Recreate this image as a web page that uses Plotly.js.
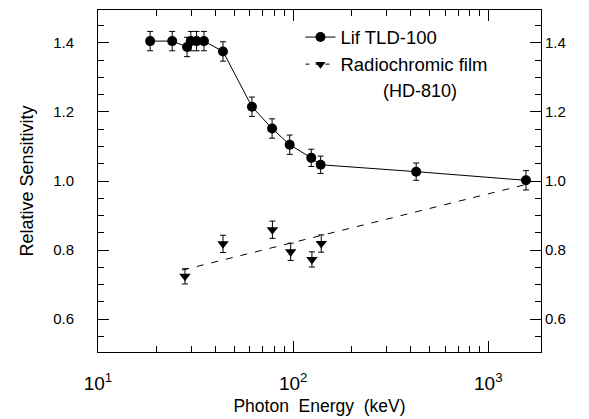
<!DOCTYPE html>
<html>
<head>
<meta charset="utf-8">
<script src="https://cdn.plot.ly/plotly-3.0.1.min.js"></script>
<style>html,body{margin:0;padding:0;background:#fff;}#chart{width:589px;height:419px;}</style>
</head>
<body>
<div id="chart"></div>
<script>
// LiF TLD-100 data
const lifX = [18.5, 24.0, 28.6, 29.9, 32.0, 34.9, 43.7, 61.5, 78.0, 96.0, 123.8, 138.3, 427, 1560];
const lifY = [1.405, 1.405, 1.388, 1.405, 1.405, 1.405, 1.375, 1.215, 1.152, 1.105, 1.067, 1.047, 1.027, 1.002];
const lifErr = [0.028, 0.028, 0.028, 0.028, 0.028, 0.028, 0.028, 0.028, 0.028, 0.028, 0.025, 0.025, 0.025, 0.028];
// Radiochromic film (HD-810) data
const filmX = [27.9, 43.7, 78.3, 97.1, 124.8, 139.3];
const filmY = [0.724, 0.818, 0.859, 0.795, 0.773, 0.819];
const filmErr = [0.022, 0.025, 0.025, 0.025, 0.022, 0.025];
// Fitted dashed line for film
const fitX = [27, 1560];
const fitY = [0.742, 0.99];
// Axis ticks
const xTickVals = [10, 100, 1000];
const xTickText = ['10<sup>1</sup>', '10<sup>2</sup>', '10<sup>3</sup>'];
const yTickVals = [0.6, 0.8, 1.0, 1.2, 1.4];
const yTickText = ['0.6', '0.8', '1.0', '1.2', '1.4'];

const xMinor = [];
[10, 100, 1000].forEach(d => { for (let k = 2; k <= 9; k++) xMinor.push(d * k); });

const FONT = 'Liberation Sans, Arial, Helvetica, sans-serif';
const traces = [
  {x: lifX, y: lifY, type: 'scatter', mode: 'lines+markers', name: 'Lif TLD-100',
   line: {color: '#000', width: 1}, marker: {symbol: 'circle', size: 10, color: '#000'},
   error_y: {type: 'data', array: lifErr, visible: true, color: '#000', thickness: 1, width: 3}},
  {x: fitX, y: fitY, type: 'scatter', mode: 'lines', showlegend: false,
   line: {color: '#000', width: 1, dash: '7px,8px'}},
  {x: filmX, y: filmY, type: 'scatter', mode: 'markers', showlegend: false,
   marker: {symbol: 'triangle-down', size: 10, color: '#000'},
   error_y: {type: 'data', array: filmErr, visible: true, color: '#000', thickness: 1, width: 3}},
  {x: [null], y: [null], type: 'scatter', mode: 'lines+markers', name: 'Radiochromic film',
   line: {color: '#000', width: 1, dash: '4px,6px'}, marker: {symbol: 'triangle-down', size: 9, color: '#000'}}
];

const layout = {
  width: 589, height: 419,
  margin: {l: 98, r: 48, t: 10, b: 67},
  paper_bgcolor: '#fff', plot_bgcolor: '#fff',
  font: {family: FONT, color: '#000', size: 15},
  showlegend: true,
  legend: {x: 0.457, y: 0.975, xanchor: 'left', yanchor: 'top', bgcolor: 'rgba(0,0,0,0)',
           font: {size: 18.5, family: FONT}, tracegroupgap: 0},
  xaxis: {type: 'log', range: [1, 3.27], tickmode: 'array', tickvals: xTickVals, ticktext: xTickText,
          ticks: 'inside', ticklen: 11, tickwidth: 1, tickcolor: '#000',
          showline: true, linecolor: '#000', linewidth: 1, mirror: 'ticks', showgrid: false, zeroline: false,
          tickfont: {size: 19}, ticklabelstandoff: 14,
          minor: {tickmode: 'array', tickvals: xMinor, ticks: 'inside', ticklen: 6, tickcolor: '#000', tickwidth: 1, showgrid: false},
          title: {text: 'Photon  Energy  (keV)', font: {size: 17.5}, standoff: 6}},
  yaxis: {range: [0.505, 1.495], tickmode: 'array', tickvals: yTickVals, ticktext: yTickText,
          ticks: 'inside', ticklen: 11, tickwidth: 1, tickcolor: '#000',
          showline: true, linecolor: '#000', linewidth: 1, showgrid: false, zeroline: false,
          tickfont: {size: 15}, ticklabelstandoff: 20,
          minor: {dtick: 0.05, ticks: 'inside', ticklen: 6, tickcolor: '#000', tickwidth: 1, showgrid: false},
          title: {text: 'Relative Sensitivity', font: {size: 18}, standoff: 14}},
  yaxis2: {overlaying: 'y', side: 'right', range: [0.505, 1.495], tickmode: 'array', tickvals: yTickVals, ticktext: yTickText,
           ticks: 'inside', ticklen: 11, tickwidth: 1, tickcolor: '#000',
           showline: true, linecolor: '#000', linewidth: 1, showgrid: false, zeroline: false,
           tickfont: {size: 15},
           minor: {dtick: 0.05, ticks: 'inside', ticklen: 6, tickcolor: '#000', tickwidth: 1, showgrid: false}},
  annotations: [{xref: 'paper', yref: 'paper', x: 0.727, y: 0.763, xanchor: 'center', yanchor: 'middle',
                 text: '(HD-810)', showarrow: false, font: {size: 18, family: FONT}}]
};
// dummy trace on yaxis2 to make it render
traces.push({x: [null], y: [null], yaxis: 'y2', type: 'scatter', mode: 'markers', showlegend: false, hoverinfo: 'skip'});
Plotly.newPlot('chart', traces, layout, {displayModeBar: false, staticPlot: true});
</script>
</body>
</html>
